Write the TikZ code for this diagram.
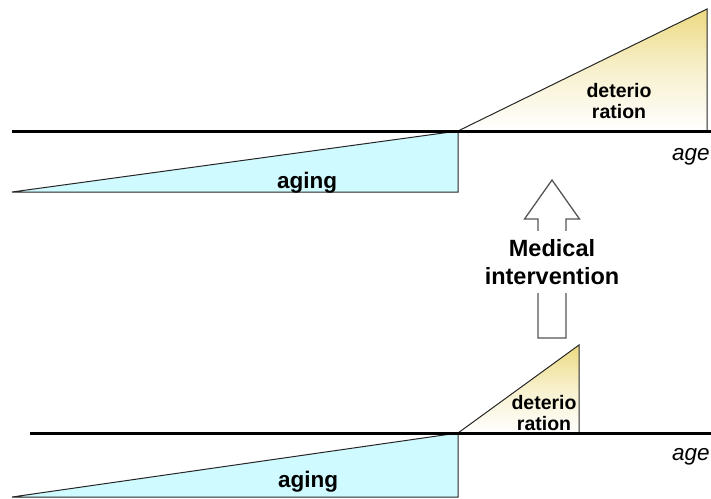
\documentclass[tikz,border=0pt]{standalone}
\usepackage{fontspec}
\setmainfont{Liberation Sans}
\definecolor{agingblue}{RGB}{207,250,255}
\definecolor{detylw}{RGB}{236,218,130}
\definecolor{arrowgray}{RGB}{85,85,85}
\begin{document}
\begin{tikzpicture}[x=1pt,y=-1pt,
  axisline/.style={line width=3pt,black},
  outline/.style={line width=1pt,black!85},
  agingfill/.style={fill=agingblue},
  detshade/.style={top color=detylw,bottom color=white,middle color=detylw!40!white},
  lbl/.style={font=\bfseries\fontsize{22.5}{26}\selectfont,inner sep=0pt},
  detlbl/.style={font=\bfseries\fontsize{19.5}{21}\selectfont,inner sep=0pt,align=center},
  agelbl/.style={font=\itshape\fontsize{22.5}{26}\selectfont,inner sep=0pt,anchor=west},
  medlbl/.style={font=\bfseries\fontsize{23.5}{28}\selectfont,align=center,fill=white,inner xsep=2pt,inner ysep=8pt}]
\useasboundingbox (0,0) rectangle (711,498);

% ---------- top panel ----------
\coordinate (tA0) at (12,192);
\coordinate (tA1) at (458,131);
\coordinate (tA2) at (458,192);
\coordinate (tD1) at (707,9);
\coordinate (tD2) at (707,131);
\coordinate (tL0) at (12,131);
\coordinate (tL1) at (711,131);

\fill[agingfill] (tA0) -- (tA1) -- (tA2) -- cycle;
\shade[detshade] (tA1) -- (tD1) -- (tD2) -- cycle;
\draw[outline] (tA0) -- (tA1) -- (tA2) -- cycle;
\draw[outline] (tA1) -- (tD1) -- (tD2);
\draw[axisline] (tL0) -- (tL1);

\node[lbl] (tAging) at (307,183) {aging};
\node[detlbl] (tDet) at (619,101) {deterio\\ration};
\node[agelbl] (tAge) at (672,157) {age};

% ---------- arrow ----------
\draw[line width=1.3pt,arrowgray,line join=miter]
  (538,338) -- (538,219) -- (524.5,219) -- (552,180) -- (579.5,219) -- (566,219) -- (566,338) -- cycle;
\node[medlbl] (med) at (552,262) {Medical\\intervention};

% ---------- bottom panel ----------
\coordinate (bA0) at (12,497);
\coordinate (bA1) at (458,433);
\coordinate (bA2) at (458,497);
\coordinate (bD1) at (579,345);
\coordinate (bD2) at (579,433);
\coordinate (bL0) at (30,433);
\coordinate (bL1) at (711,433);

\fill[agingfill] (bA0) -- (bA1) -- (bA2) -- cycle;
\shade[detshade] (bA1) -- (bD1) -- (bD2) -- cycle;
\draw[outline] (bA0) -- (bA1) -- (bA2) -- cycle;
\draw[outline] (bA1) -- (bD1) -- (bD2);
\draw[axisline] (bL0) -- (bL1);

\node[lbl] (bAging) at (308,482) {aging};
\node[detlbl] (bDet) at (544,413) {deterio\\ration};
\node[agelbl] (bAge) at (672,457) {age};
\end{tikzpicture}
\end{document}
